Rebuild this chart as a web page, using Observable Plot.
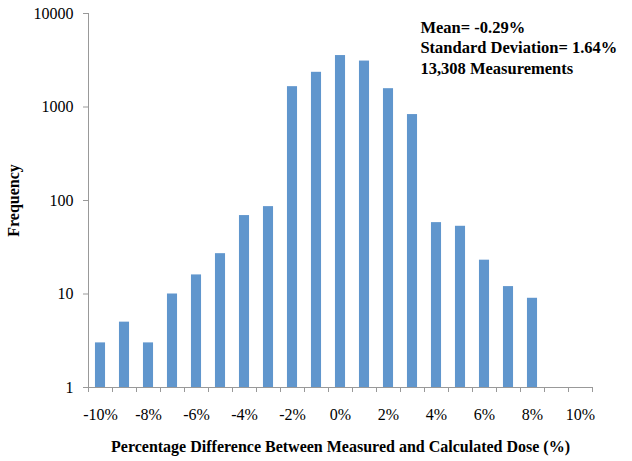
<!DOCTYPE html>
<html>
<head>
<meta charset="utf-8">
<script src="https://cdn.jsdelivr.net/npm/d3@7"></script>
<script src="https://cdn.jsdelivr.net/npm/@observablehq/plot@0.6"></script>
<style>
  html, body { margin: 0; padding: 0; background: #fff; }
  svg { display: block; }
</style>
</head>
<body>
<div id="chart"></div>
<script>
const diffs = [-10, -9, -8, -7, -6, -5, -4, -3, -2, -1, 0, 1, 2, 3, 4, 5, 6, 7, 8];
const freqs = [3, 5, 3, 10, 16, 27, 69, 86, 1650, 2350, 3550, 3100, 1570, 830, 58, 53, 23, 12, 9];
const xTickValues = [-10, -8, -6, -4, -2, 0, 2, 4, 6, 8, 10];
const yTickValues = [1, 10, 100, 1000, 10000];
const statsLines = ["Mean= -0.29%", "Standard Deviation= 1.64%", "13,308 Measurements"];
const xTitle = "Percentage Difference Between Measured and Calculated Dose (%)";
const yTitle = "Frequency";

const data = diffs.map((d, i) => ({x: d, f: freqs[i]}));
const boundaries = d3.range(-10.5, 11, 1);
const halfBar = 0.21;
const serif = "'Liberation Serif', 'Times New Roman', serif";

const chart = Plot.plot({
  width: 632,
  height: 461,
  marginLeft: 88,
  marginRight: 40,
  marginTop: 13,
  marginBottom: 74,
  style: {fontFamily: serif, fontSize: "16px", color: "#000", background: "#fff"},
  x: {type: "linear", domain: [-10.5, 10.5]},
  y: {type: "log", domain: [1, 10000]},
  marks: [
    Plot.rectY(data, {
      x1: d => d.x - halfBar,
      x2: d => d.x + halfBar,
      y1: 1,
      y2: "f",
      fill: "#6096cd"
    }),
    Plot.axisY({
      ticks: yTickValues,
      tickFormat: d => String(d),
      tickSize: 5,
      tickPadding: 10,
      stroke: "#999",
      fill: "#000",
      fontSize: 16,
      label: null
    }),
    Plot.ruleX([-10.5], {stroke: "#999"}),
    Plot.ruleY([1], {stroke: "#999"}),
    Plot.axisX({
      ticks: boundaries,
      tickFormat: () => "",
      tickSize: 5,
      stroke: "#999",
      label: null
    }),
    Plot.axisX({
      ticks: xTickValues,
      tickFormat: d => d + "%",
      tickSize: 0,
      tickPadding: 21,
      fontSize: 16,
      fill: "#000",
      label: null
    }),
    Plot.text([statsLines.join("\n")], {
      x: 3.33,
      frameAnchor: "top",
      dy: 5,
      text: d => d,
      textAnchor: "start",
      lineAnchor: "top",
      lineHeight: 1.24,
      fontSize: 16.5,
      fontWeight: "bold",
      fill: "#000"
    }),
    Plot.text([xTitle], {
      frameAnchor: "bottom",
      dy: 64,
      text: d => d,
      textAnchor: "middle",
      fontSize: 16,
      fontWeight: "bold",
      fill: "#000"
    }),
    Plot.text([yTitle], {
      frameAnchor: "left",
      dx: -75,
      rotate: -90,
      text: d => d,
      textAnchor: "middle",
      fontSize: 16,
      fontWeight: "bold",
      fill: "#000"
    })
  ]
});
document.getElementById("chart").appendChild(chart);
</script>
</body>
</html>
